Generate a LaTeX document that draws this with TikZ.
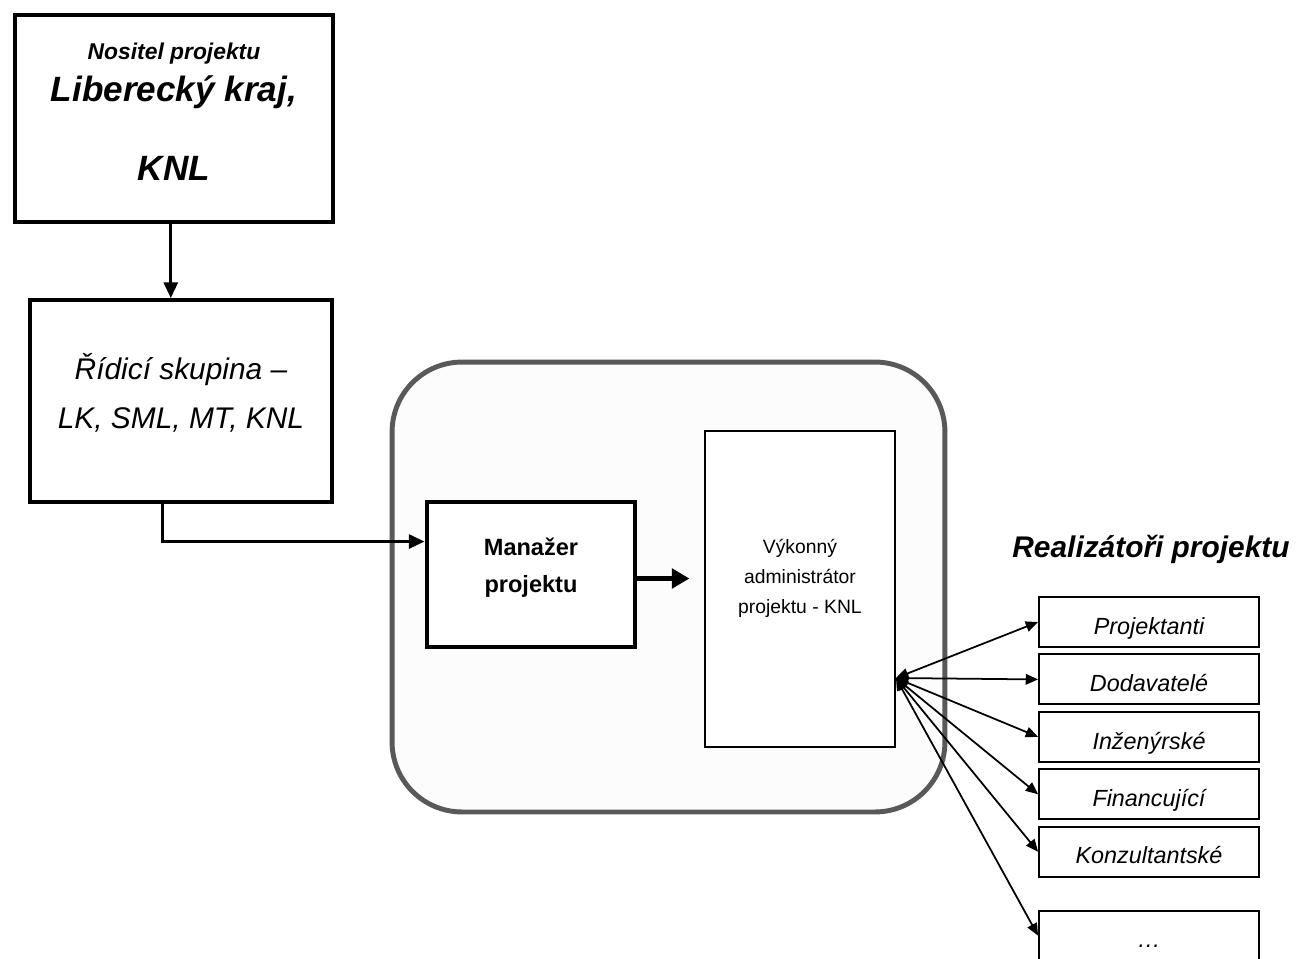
\documentclass[tikz,border=0pt]{standalone}
\usepackage{fontspec}
\setmainfont{Liberation Sans}
\usetikzlibrary{positioning,calc,arrows.meta}

\tikzset{
  krabice/.style={draw, line width=2.2pt, fill=white, align=center, inner sep=0pt},
  ramec/.style={draw=black!65, line width=2.8pt, fill=gray!2, rounded corners=1.4cm,
    minimum width=11.06cm, minimum height=9cm},
  realizator/.style={draw, line width=1.1pt, fill=white, minimum width=4.4cm,
    minimum height=1cm, inner sep=0pt, text height=15pt, text depth=1pt,
    font=\itshape\fontsize{13.3}{16}\selectfont},
  spoj/.style={line width=1.7pt, -{Triangle[length=9pt,width=8pt]}},
  silna/.style={line width=2.8pt, -{Triangle[length=10pt,width=11pt]}},
  vejir/.style={line width=1pt, {Triangle[length=7pt,width=6pt]}-{Triangle[length=7pt,width=6pt]}}
}

\begin{document}
\begin{tikzpicture}[x=0.02cm, y=-0.02cm]
  \useasboundingbox (0,0) rectangle (1296,958);

  % ramec kolem vykonne casti
  \node[ramec] (ramec) at (668.5,587) {};

  % nositel a ridici skupina
  \node[krabice, minimum width=6.36cm, minimum height=4.14cm, text depth=8pt,
    font=\bfseries\itshape\fontsize{20}{24}\selectfont] (nositel) at (174,118.5)
    {{\fontsize{13}{16}\selectfont Nositel projektu}\\ Liberecký kraj,\\[21pt] KNL};
  \node[krabice, minimum width=6.04cm, minimum height=4.04cm, text depth=11.5pt,
    font=\itshape\fontsize{17}{28}\selectfont] (ridici) at (181,401)
    {Řídicí skupina –\\LK, SML, MT, KNL};

  % manazer a administrator
  \node[krabice, line width=2.8pt, minimum width=4.16cm, minimum height=2.9cm,
    text depth=11pt, font=\bfseries\fontsize{13.4}{21}\selectfont] (manazer)
    at (531,574.5) {Manažer\\projektu};
  \node[krabice, line width=1.1pt, minimum width=3.8cm, minimum height=6.32cm,
    text depth=14pt, font=\fontsize{11}{17}\selectfont] (vykonny) at (800,589)
    {Výkonný\\administrátor\\projektu - KNL};

  % realizatori
  \node[font=\bfseries\itshape\fontsize{17}{20}\selectfont, anchor=base] (nadpis)
    at (1151,557) {Realizátoři projektu};
  \node[realizator] (projektanti) at (1149,622) {Projektanti};
  \node[realizator, below=0.11cm of projektanti] (dodavatele) {Dodavatelé};
  \node[realizator, below=0.11cm of dodavatele] (inzenyrske) {Inženýrské};
  \node[realizator, below=0.11cm of inzenyrske] (financujici) {Financující};
  \node[realizator, below=0.11cm of financujici] (konzultantske) {Konzultantské};
  \node[realizator, below=0.64cm of konzultantske] (dalsi) {\dots};

  % spoje
  \coordinate (pata) at ($(nositel.south west)!0.49!(nositel.south east)$);
  \draw[spoj] (pata) -- (pata |- ridici.north);
  \draw[spoj] ($(ridici.south west)!0.44!(ridici.south east)$)
    |- ($(manazer.north west)!0.28!(manazer.south west)$);

  \coordinate (hrot) at ($(manazer.east)+(52,4)$);
  \draw[silna] (manazer.east |- hrot) -- (hrot);

  % vejir k realizatorum
  \coordinate (stred) at ($(vykonny.north east)!0.78!(vykonny.south east)$);
  \foreach \cil in {projektanti,dodavatele,inzenyrske,financujici,konzultantske,dalsi}
    \draw[vejir] (stred) -- (\cil.west);
\end{tikzpicture}
\end{document}
